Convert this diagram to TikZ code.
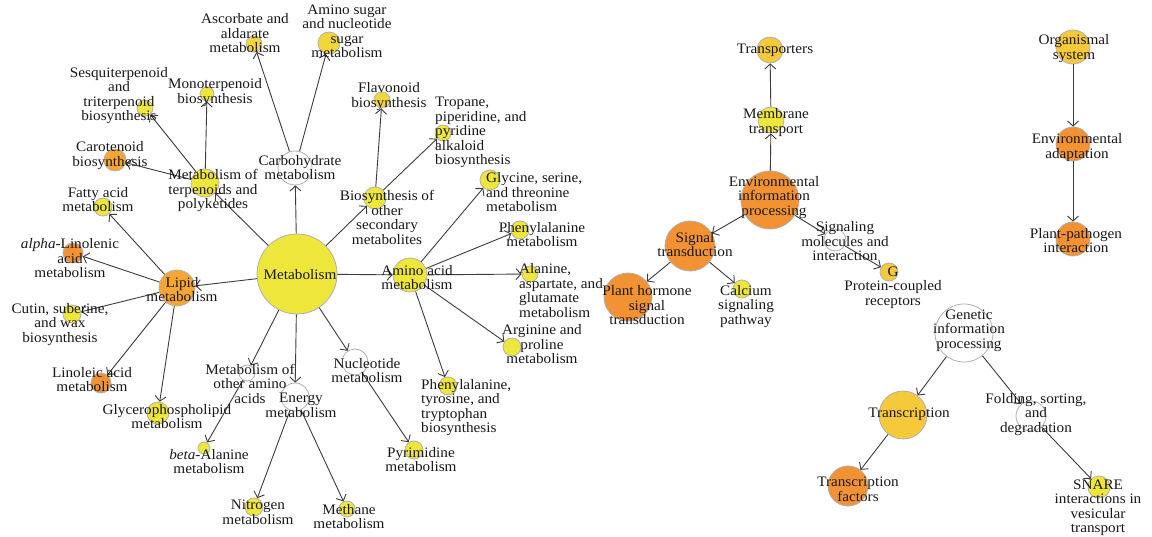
\documentclass[tikz,border=0pt]{standalone}
\usepackage{fontspec}
\setmainfont{Liberation Serif}[FakeStretch=1.05]
\usetikzlibrary{arrows.meta}
\definecolor{cyel}{HTML}{EFE63C}
\definecolor{cgoldy}{HTML}{F2D63A}
\definecolor{cgold}{HTML}{F5C93A}
\definecolor{clor}{HTML}{F5A634}
\definecolor{cor}{HTML}{F39232}
\definecolor{cedge}{HTML}{3C3C3C}
\definecolor{cbord}{HTML}{B0B0B0}
\tikzset{
  cnode/.style 2 args={circle, inner sep=0pt, minimum size=#1*2pt, fill=#2, draw=cbord, line width=0.8pt},
  lbl/.style={inner sep=0pt, align=center, yshift=-1.5pt, font=\fontsize{14.5}{14.5}\selectfont, text=black!90},
  lbll/.style={inner sep=0pt, align=left, yshift=-1.5pt, font=\fontsize{14.5}{14.5}\selectfont, text=black!90},
  edge/.style={draw=cedge, line width=0.9pt, -{Straight Barb[length=5pt,width=11pt,line width=0.9pt]}}
}
\begin{document}
\begin{tikzpicture}[x=1pt,y=-1pt]
\path[fill=white] (0,0) rectangle (1152,537);
\useasboundingbox (0,0) rectangle (1152,537);
% circles
\node[cnode={40}{cyel}] (metab) at (297,274) {};
\node[cnode={17}{white}] (carb) at (295,168) {};
\node[cnode={8}{cgoldy}] (asc) at (254,44) {};
\node[cnode={11}{cgoldy}] (amsug) at (329,43) {};
\node[cnode={14}{cyel}] (terp) at (205,183) {};
\node[cnode={8}{cyel}] (sesq) at (145,108) {};
\node[cnode={7}{cyel}] (mono) at (207,94) {};
\node[cnode={11}{clor}] (carot) at (115,160) {};
\node[cnode={18}{clor}] (lipid) at (177,288) {};
\node[cnode={9}{cyel}] (fatty) at (103,207) {};
\node[cnode={10}{cor}] (alpha) at (73,253) {};
\node[cnode={9}{cyel}] (cutin) at (72,314) {};
\node[cnode={10}{cor}] (linol) at (101,383) {};
\node[cnode={11}{cyel}] (glyc) at (158,413) {};
\node[cnode={11}{cyel}] (bios) at (375,198) {};
\node[cnode={8}{cgoldy}] (flav) at (382,100) {};
\node[cnode={8}{cyel}] (trop) at (443,133) {};
\node[cnode={17}{cyel}] (amino) at (410,275) {};
\node[cnode={10}{cyel}] (glycine) at (490,180) {};
\node[cnode={9}{cyel}] (phemet) at (520,230) {};
\node[cnode={8}{cyel}] (ala) at (530,274) {};
\node[cnode={9}{cyel}] (arg) at (512,347) {};
\node[cnode={9}{cyel}] (phetyr) at (448,386) {};
\node[cnode={8}{white}] (other) at (247,373) {};
\node[cnode={6}{cyel}] (beta) at (204,448) {};
\node[cnode={14}{white}] (energy) at (295,397) {};
\node[cnode={9}{cyel}] (nitro) at (254,507) {};
\node[cnode={8}{cyel}] (meth) at (347,509) {};
\node[cnode={13}{white}] (nucl) at (355,362) {};
\node[cnode={9}{cyel}] (pyr) at (414,450) {};
\node[cnode={29}{cor}] (envinfo) at (770,200) {};
\node[cnode={13}{cyel}] (memb) at (771,120) {};
\node[cnode={13}{cgold}] (transp) at (770,50) {};
\node[cnode={25}{cor}] (signal) at (690,246) {};
\node[cnode={24}{cor}] (plant) at (628,297) {};
\node[cnode={9}{cyel}] (calc) at (742,289) {};
\node[cnode={11}{white}] (sigmol) at (835,240) {};
\node[cnode={9}{cgold}] (gpcr) at (889,272) {};
\node[cnode={29}{white}] (genet) at (964,333) {};
\node[cnode={24}{cgold}] (transc) at (903,415) {};
\node[cnode={20}{cor}] (tfact) at (848,486) {};
\node[cnode={15}{white}] (fold) at (1031,416) {};
\node[cnode={11}{cyel}] (snare) at (1099,487) {};
\node[cnode={17}{cgold}] (organ) at (1073,47) {};
\node[cnode={17}{cor}] (envad) at (1073,144) {};
\node[cnode={17}{cor}] (ppi) at (1073,239) {};
% edges
\foreach \a/\b in {metab/carb, metab/terp, metab/bios, metab/amino, metab/lipid, metab/other, metab/energy, metab/nucl,
  carb/asc, carb/amsug, terp/sesq, terp/mono, terp/carot,
  lipid/fatty, lipid/alpha, lipid/cutin, lipid/linol, lipid/glyc,
  bios/flav, bios/trop, amino/glycine, amino/phemet, amino/ala, amino/arg, amino/phetyr,
  other/beta, energy/nitro, energy/meth, nucl/pyr,
  envinfo/memb, memb/transp, envinfo/signal, envinfo/sigmol, signal/plant, signal/calc, sigmol/gpcr,
  genet/transc, genet/fold, transc/tfact, fold/snare, organ/envad, envad/ppi}
  \draw[edge] (\a) -- (\b);
% labels
\node[lbl] (l-metab) at (300,273) {Metabolism};
\node[lbl] (l-carb) at (300,166) {Carbohydrate\\metabolism};
\node[lbl] (l-asc) at (245,32) {Ascorbate and\\aldarate\\metabolism};
\node[lbl] (l-amsug) at (347,30) {Amino sugar\\and nucleotide\\sugar\\metabolism};
\node[lbl] (l-terp) at (213,189) {Metabolism of\\terpenoids and\\polyketides};
\node[lbl] (l-sesq) at (119,94) {Sesquiterpenoid\\and\\triterpenoid\\biosynthesis};
\node[lbl] (l-mono) at (215,91) {Monoterpenoid\\biosynthesis};
\node[lbl] (l-carot) at (110,154) {Carotenoid\\biosynthesis};
\node[lbl] (l-lipid) at (182,288) {Lipid\\metabolism};
\node[lbl] (l-fatty) at (98,198) {Fatty acid\\metabolism};
\node[lbl] (l-alpha) at (70,257) {\textit{alpha}-Linolenic\\acid\\metabolism};
\node[lbl] (l-cutin) at (60,323) {Cutin, suberine,\\and wax\\biosynthesis};
\node[lbl] (l-linol) at (92,378) {Linoleic acid\\metabolism};
\node[lbl] (l-glyc) at (167,415) {Glycerophospholipid\\metabolism};
\node[lbl] (l-bios) at (387,216) {Biosynthesis of\\other\\secondary\\metabolites};
\node[lbl] (l-flav) at (389,95) {Flavonoid\\biosynthesis};
\node[lbll,anchor=west] (l-trop) at (435,131) {Tropane,\\piperidine, and\\pyridine\\alkaloid\\biosynthesis};
\node[lbl] (l-amino) at (417,276) {Amino acid\\metabolism};
\node[lbll,anchor=west] (l-glycine) at (486,191) {Glycine, serine,\\and threonine\\metabolism};
\node[lbl] (l-phemet) at (542,233) {Phenylalanine\\metabolism};
\node[lbll,anchor=west] (l-ala) at (519,289) {Alanine,\\aspartate, and\\glutamate\\metabolism};
\node[lbl] (l-arg) at (542,343) {Arginine and\\proline\\metabolism};
\node[lbll,anchor=west] (l-phetyr) at (421,406) {Phenylalanine,\\tyrosine, and\\tryptophan\\biosynthesis};
\node[lbl] (l-other) at (250,382) {Metabolism of\\other amino\\acids};
\node[lbl] (l-beta) at (209,460) {\textit{beta}-Alanine\\metabolism};
\node[lbl] (l-energy) at (301,404) {Energy\\metabolism};
\node[lbl] (l-nitro) at (258,511) {Nitrogen\\metabolism};
\node[lbl] (l-meth) at (349,515) {Methane\\metabolism};
\node[lbl] (l-nucl) at (367,369) {Nucleotide\\metabolism};
\node[lbl] (l-pyr) at (421,458) {Pyrimidine\\metabolism};
\node[lbl] (l-envinfo) at (774,196) {Environmental\\information\\processing};
\node[lbl] (l-memb) at (776,121) {Membrane\\transport};
\node[lbl] (l-transp) at (775,49) {Transporters};
\node[lbl] (l-signal) at (695,243) {Signal\\transduction};
\node[lbl] (l-plant) at (647,304) {Plant hormone\\signal\\transduction};
\node[lbl] (l-calc) at (746,305) {Calcium\\signaling\\pathway};
\node[lbl] (l-sigmol) at (845,240) {Signaling\\molecules and\\interaction};
\node[lbl] (l-gpcr) at (893,286) {G\\Protein-coupled\\receptors};
\node[lbl] (l-genet) at (969,329) {Genetic\\information\\processing};
\node[lbl] (l-transc) at (909,413) {Transcription};
\node[lbl] (l-tfact) at (858,488) {Transcription\\factors};
\node[lbl] (l-fold) at (1036,413) {Folding, sorting,\\and\\degradation};
\node[lbl] (l-snare) at (1098,506) {SNARE\\interactions in\\vesicular\\transport};
\node[lbl] (l-organ) at (1074,47) {Organismal\\system};
\node[lbl] (l-envad) at (1077,146) {Environmental\\adaptation};
\node[lbl] (l-ppi) at (1076,239) {Plant-pathogen\\interaction};
\end{tikzpicture}
\end{document}
